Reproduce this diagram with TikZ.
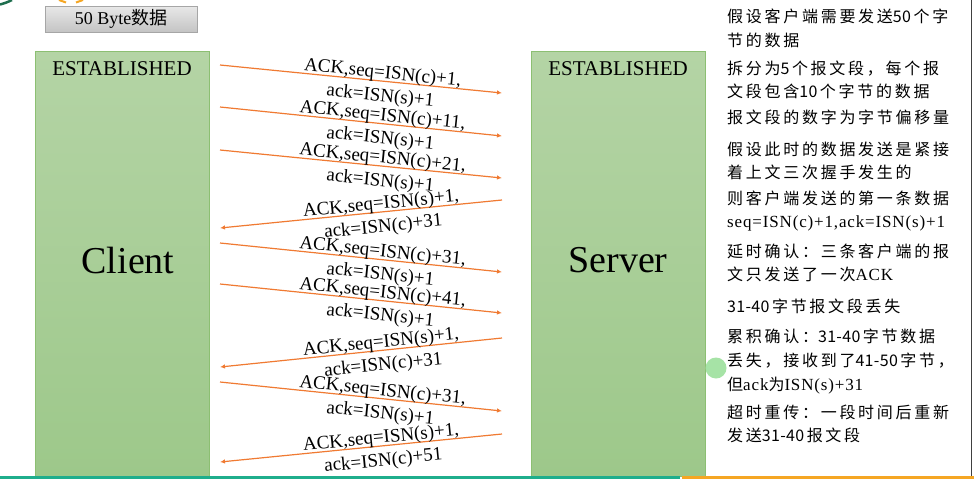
\documentclass[tikz,border=0pt]{standalone}
\usepackage{fontspec}
\setmainfont{Liberation Serif}
\newfontfamily\cjk{Noto Sans CJK SC}
\newfontfamily\cjkpanel[LetterSpace=17]{Noto Sans CJK SC}
\newfontfamily\cjkdigits[LetterSpace=2]{Noto Sans CJK SC}
\newfontfamily\latpanel[LetterSpace=5]{Liberation Serif}
\newcommand{\dg}[1]{{\cjkdigits #1}\hspace{2.5pt}}
\newcommand{\lt}[1]{{\latpanel\fontsize{17}{20}\selectfont #1}}
\usetikzlibrary{arrows.meta}
\definecolor{msgorange}{HTML}{F07A32}
\definecolor{boxtop}{HTML}{B4D4A5}
\definecolor{boxbot}{HTML}{9DC88A}
\definecolor{boxline}{HTML}{8CBF72}
\definecolor{btntop}{HTML}{E8E8E8}
\definecolor{btnbot}{HTML}{C4C4C4}
\definecolor{btnline}{HTML}{A6A6A6}
\definecolor{footteal}{HTML}{1FAE8C}
\definecolor{footorange}{HTML}{F5A623}
\definecolor{darkteal}{HTML}{1E6E4E}
\definecolor{dotgreen}{HTML}{A6E3A6}
\tikzset{
  hostbox/.style={draw=boxline, line width=1pt, top color=boxtop, bottom color=boxbot,
    minimum width=174pt, minimum height=425pt, inner sep=0pt},
  statelbl/.style={font=\fontsize{21}{24}\selectfont, inner sep=0pt},
  hostlbl/.style={font=\fontsize{38}{42}\selectfont, inner sep=0pt},
  msg/.style={draw=msgorange, line width=1.2pt, -{Latex[length=5pt,width=4.5pt]}},
  msglbl/.style={sloped, align=center, font=\fontsize{19}{23}\selectfont, inner sep=0pt, text=black},
  paneltxt/.style={anchor=base west, inner sep=0pt, font=\cjkpanel\fontsize{16}{20}\selectfont},
  btn/.style={draw=btnline, line width=0.8pt, top color=btntop, bottom color=btnbot,
    minimum width=152pt, minimum height=26pt, inner sep=0pt, font=\fontsize{18}{20}\selectfont}
}
\begin{document}
\begin{tikzpicture}[x=1pt,y=-1pt]
\useasboundingbox (0,0) rectangle (974,479);
\fill[white] (0,0) rectangle (974,479);
% decorations at top
\draw[darkteal, line width=2.5pt] (0,4.5) .. controls (4,3.5) and (8,2) .. (12,0);
\draw[footorange, line width=2pt] (59,0) -- (66,2.5);
\draw[footorange, line width=2pt] (76,2.5) -- (83,0);
% right border
\draw[black!75, line width=1.2pt] (971.5,0) -- (971.5,477);
% button
\node[btn] (btn) at (121,19) {50 Byte{\cjk 数据}};
% host boxes
\node[hostbox] (client) at (122,263.5) {};
\node[hostbox] (server) at (618,263.5) {};
\node[statelbl] (cest) at (122,69) {ESTABLISHED};
\node[statelbl] (sest) at (618,69) {ESTABLISHED};
\node[hostlbl] (cname) at (128,260) {Client};
\node[hostlbl] (sname) at (618,260) {Server};
% footer
\fill[footteal] (0,476) rectangle (680,479);
\fill[footorange] (682,476) rectangle (974,479);
% message endpoints
\coordinate (c1) at (220,65);  \coordinate (s1) at (502,93);
\coordinate (c2) at (220,107); \coordinate (s2) at (502,136);
\coordinate (c3) at (220,150); \coordinate (s3) at (502,178);
\coordinate (s4) at (502,200); \coordinate (c4) at (220,228);
\coordinate (c5) at (220,243); \coordinate (s5) at (502,272);
\coordinate (c6) at (220,284); \coordinate (s6) at (502,313);
\coordinate (s7) at (502,338); \coordinate (c7) at (220,367);
\coordinate (c8) at (220,382); \coordinate (s8) at (502,411);
\coordinate (s9) at (502,434); \coordinate (c9) at (220,462);
% messages
\draw[msg] (c1) -- (s1) node[msglbl, pos=0.574, yshift=-4pt] (m1) {ACK,seq=ISN(c)+1,\\ack=ISN(s)+1};
\draw[msg] (c2) -- (s2) node[msglbl, pos=0.574, yshift=-4pt] (m2) {ACK,seq=ISN(c)+11,\\ack=ISN(s)+1};
\draw[msg] (c3) -- (s3) node[msglbl, pos=0.574, yshift=-4pt] (m3) {ACK,seq=ISN(c)+21,\\ack=ISN(s)+1};
\draw[msg] (s4) -- (c4) node[msglbl, pos=0.426, yshift=-4pt] (m4) {ACK,seq=ISN(s)+1,\\ack=ISN(c)+31};
\draw[msg] (c5) -- (s5) node[msglbl, pos=0.574, yshift=-4pt] (m5) {ACK,seq=ISN(c)+31,\\ack=ISN(s)+1};
\draw[msg] (c6) -- (s6) node[msglbl, pos=0.574, yshift=-4pt] (m6) {ACK,seq=ISN(c)+41,\\ack=ISN(s)+1};
\draw[msg] (s7) -- (c7) node[msglbl, pos=0.426, yshift=-4pt] (m7) {ACK,seq=ISN(s)+1,\\ack=ISN(c)+31};
\draw[msg] (c8) -- (s8) node[msglbl, pos=0.574, yshift=-4pt] (m8) {ACK,seq=ISN(c)+31,\\ack=ISN(s)+1};
\draw[msg] (s9) -- (c9) node[msglbl, pos=0.426, yshift=-4pt] (m9) {ACK,seq=ISN(s)+1,\\ack=ISN(c)+51};
% right panel text
\node[paneltxt] (p1) at (727,23) {假设客户端需要发送\dg{50}个字};
\node[paneltxt] (p2) at (727,46) {节的数据};
\node[paneltxt] (p3) at (727,74) {拆分为\dg{5}个报文段，每个报};
\node[paneltxt] (p4) at (727,97) {文段包含\dg{10}个字节的数据};
\node[paneltxt] (p5) at (727,123) {报文段的数字为字节偏移量};
\node[paneltxt] (p6) at (727,155) {假设此时的数据发送是紧接};
\node[paneltxt] (p7) at (727,178) {着上文三次握手发生的};
\node[paneltxt] (p8) at (727,204) {则客户端发送的第一条数据};
\node[paneltxt] (p9) at (727,227) {\lt{seq=ISN(c)+1,ack=ISN(s)+1}};
\node[paneltxt] (p10) at (727,257) {延时确认：三条客户端的报};
\node[paneltxt] (p11) at (727,280) {文只发送了一次\lt{ACK}};
\node[paneltxt] (p12) at (727,312) {\dg{31-40}字节报文段丢失};
\node[paneltxt] (p13) at (727,342) {累积确认：\dg{31-40}字节数据};
\node[paneltxt] (p14) at (727,366) {丢失，接收到了\dg{41-50}字节，};
\node[paneltxt] (p15) at (727,390) {但\lt{ack}为\lt{ISN(s)+31}};
\node[paneltxt] (p16) at (727,418) {超时重传：一段时间后重新};
\node[paneltxt] (p17) at (727,441) {发送\dg{31-40}报文段};
% pointer dot
\node[circle, fill=dotgreen, minimum size=21pt, inner sep=0pt] (dot) at (716,368) {};
\end{tikzpicture}
\end{document}
